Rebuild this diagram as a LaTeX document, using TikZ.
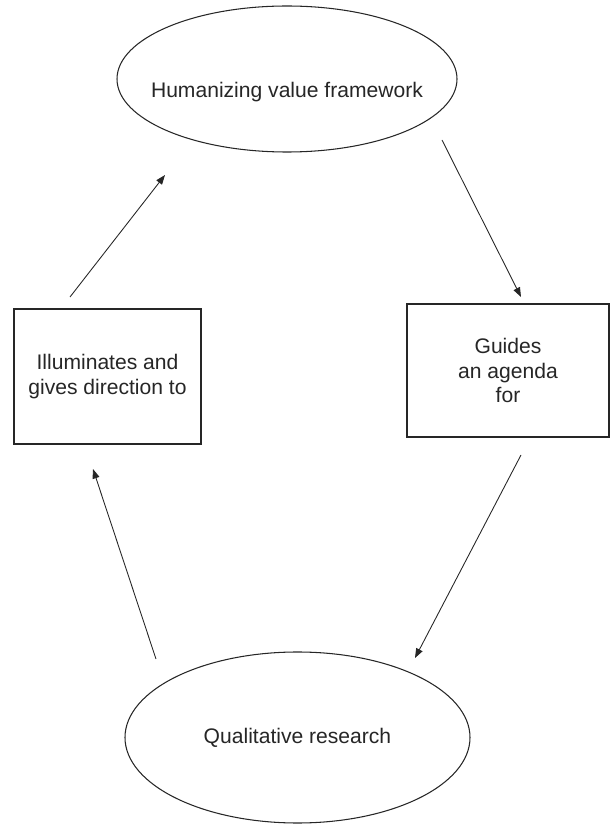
\documentclass[tikz,border=0pt]{standalone}
\usepackage{fontspec}
\setmainfont{Liberation Sans}
\usetikzlibrary{shapes.geometric,arrows.meta}
\definecolor{ink}{gray}{0.15}

\begin{document}
\begin{tikzpicture}[
  every node/.style={font=\fontsize{12}{14.2}\selectfont, text=ink, align=center},
  oval/.style={draw=ink, ellipse, line width=0.6pt, inner sep=0pt},
  panel/.style={draw=ink, rectangle, line width=0.7pt, inner sep=0pt},
  link/.style={draw=ink, line width=0.5pt, -{Triangle[length=1.9mm,width=1.4mm]}}
]
\useasboundingbox (0,0) rectangle (12.2,16.5);

\node[oval, minimum width=6.8cm, minimum height=2.92cm,
  label={[yshift=-0.26cm]center:Humanizing value framework}] (hvf) at (5.74,14.92) {};
\node[panel, minimum width=3.74cm, minimum height=2.7cm] (illum) at (2.15,8.97) {Illuminates and\\gives direction to};
\node[panel, minimum width=4.04cm, minimum height=2.66cm] (guides) at (10.16,9.09) {Guides\\an agenda\\for};
\node[oval, minimum width=6.9cm, minimum height=3.42cm] (qual) at (5.95,1.75) {Qualitative research};

% arrow ends, kept clear of the shapes
\coordinate (illumOut) at (1.40,10.56);
\coordinate (hvfIn)    at (3.30,13.00);
\coordinate (hvfOut)   at (8.84,13.70);
\coordinate (guidesIn) at (10.42,10.56);
\coordinate (guidesOut) at (10.42,7.40);
\coordinate (qualIn)   at (8.30,3.34);
\coordinate (qualOut)  at (3.12,3.32);
\coordinate (illumIn)  at (1.86,7.12);

\draw[link] (illumOut) -- (hvfIn);
\draw[link] (hvfOut) -- (guidesIn);
\draw[link] (guidesOut) -- (qualIn);
\draw[link] (qualOut) -- (illumIn);
\end{tikzpicture}
\end{document}
